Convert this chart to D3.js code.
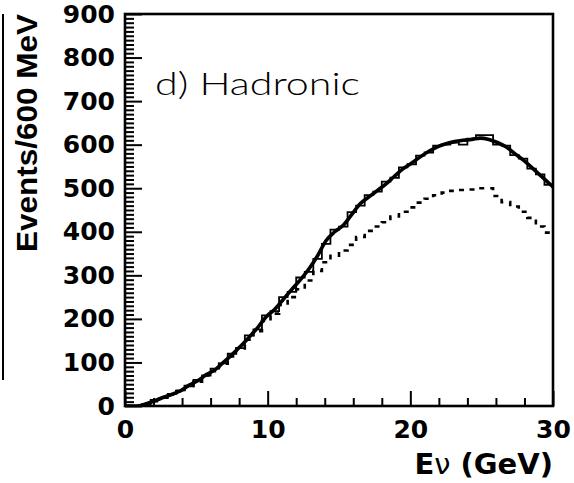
<!DOCTYPE html>
<html>
<head>
<meta charset="utf-8">
<script src="https://cdn.jsdelivr.net/npm/d3@7"></script>
<style>
  html, body { margin: 0; padding: 0; background: #fff; }
  svg { display: block; }
</style>
</head>
<body>
<svg id="chart" width="574" height="483"></svg>
<script>
// ---------------- data ----------------
// lower edges of the 600 MeV bins (GeV)
const binLow = [0.0,0.6,1.2,1.8,2.4,3.0,3.6,4.2,4.8,5.4,
                6.0,6.6,7.2,7.8,8.4,9.0,9.6,10.2,10.8,11.4,
                12.0,12.6,13.2,13.8,14.4,15.0,15.6,16.2,16.8,17.4,
                18.0,18.6,19.2,19.8,20.4,21.0,21.6,22.2,22.8,23.4,
                24.0,24.6,25.2,25.8,26.4,27.0,27.6,28.2,28.8,29.4];
const binWidth = 0.6;

// smooth (thick) solid curve, values at bin centres
const mcTotal = [0,0,5,12,20,27,35,48,58,72,
                 83,100,118,137,158,180,205,222,245,268,
                 290,315,345,380,400,415,440,465,480,495,
                 510,528,545,558,572,585,595,602,607,610,
                 612,615,612,605,595,580,565,548,530,512];
// fluctuating (thin) solid histogram
const dataTotal = [0,0,4,14,18,28,36,45,60,70,
                   86,98,120,133,162,176,208,218,250,262,
                   295,308,338,372,405,412,445,460,484,492,
                   515,524,548,555,575,582,598,600,605,600,
                   614,622,622,600,598,576,568,545,532,508];
// dashed histogram
const dashedSeries = [0,0,4,11,19,26,34,46,56,70,
                      80,97,114,132,152,172,195,212,232,250,
                      268,288,310,330,345,357,370,388,402,412,
                      422,435,446,456,467,476,484,490,494,496,
                      497,500,500,482,468,458,446,432,412,398];

const xMajorTicks = [0, 10, 20, 30];
const xMinorTicks = [2,4,6,8,12,14,16,18,22,24,26,28];
const yMajorTicks = [0,100,200,300,400,500,600,700,800,900];
const yMinorTicks = d3.range(0, 901, 10).filter(v => v % 100 !== 0);

const panelLabel = "d) Hadronic";
const yTitle = "Events/600 MeV";

// ---------------- layout ----------------
const L = 125, R = 553, T = 14, B = 406;
const svg = d3.select("#chart");
const x = d3.scaleLinear().domain([0, 30]).range([L, R]);
const y = d3.scaleLinear().domain([0, 900]).range([B, T]);

const tickFont = "'DejaVu Sans', sans-serif";

// neighbour-panel frame fragment at the left edge
svg.append("line").attr("x1", 3).attr("x2", 3).attr("y1", 14).attr("y2", 380)
  .attr("stroke", "#000").attr("stroke-width", 2);

// step path builder
function stepPath(values) {
  const pts = [];
  values.forEach((v, i) => {
    pts.push([binLow[i], v]);
    pts.push([binLow[i] + binWidth, v]);
  });
  return d3.line().x(d => x(d[0])).y(d => y(d[1]))(pts);
}

svg.append("clipPath").attr("id", "plotclip")
  .append("rect").attr("x", L).attr("y", T).attr("width", R - L).attr("height", B - T);

const g = svg.append("g").attr("clip-path", "url(#plotclip)");

g.append("path").attr("d", stepPath(dashedSeries))
  .attr("fill", "none").attr("stroke", "#000").attr("stroke-width", 2.6)
  .attr("stroke-dasharray", "5,6");

// smooth curve through bin centres, extended to the axis edges
const curvePts = mcTotal.map((v, i) => [binLow[i] + binWidth / 2, v]);
curvePts.unshift([binLow[0], mcTotal[0]]);
curvePts.push([binLow[binLow.length - 1] + binWidth, mcTotal[mcTotal.length - 1] - 9]);
g.append("path")
  .attr("d", d3.line().x(d => x(d[0])).y(d => y(d[1])).curve(d3.curveMonotoneX)(curvePts))
  .attr("fill", "none").attr("stroke", "#000").attr("stroke-width", 3.6)
  .attr("stroke-linejoin", "round");

g.append("path").attr("d", stepPath(dataTotal))
  .attr("fill", "none").attr("stroke", "#000").attr("stroke-width", 1.8);

// ---------------- axes ----------------
function styleAxis(sel) {
  sel.select(".domain").remove();
  sel.selectAll(".tick line").attr("stroke", "#000").attr("stroke-width", 2);
  sel.selectAll(".tick text").attr("fill", "#000")
    .attr("font-family", tickFont).attr("font-weight", "bold").attr("font-size", 25);
}

svg.append("g").attr("transform", `translate(0,${B})`)
  .call(d3.axisBottom(x).tickValues(xMinorTicks).tickSize(-8).tickFormat(""))
  .call(styleAxis);
svg.append("g").attr("transform", `translate(0,${B})`)
  .call(d3.axisBottom(x).tickValues(xMajorTicks).tickSize(-15).tickPadding(14).tickFormat(d3.format("d")))
  .call(styleAxis);

svg.append("g").attr("transform", `translate(${L},0)`)
  .call(d3.axisLeft(y).tickValues(yMinorTicks).tickSize(-9).tickFormat(""))
  .call(styleAxis);
svg.append("g").attr("transform", `translate(${L},0)`)
  .call(d3.axisLeft(y).tickValues(yMajorTicks).tickSize(-17).tickPadding(10).tickFormat(d3.format("d")))
  .call(styleAxis);

// frame
svg.append("rect").attr("x", L).attr("y", T).attr("width", R - L).attr("height", B - T)
  .attr("fill", "none").attr("stroke", "#000").attr("stroke-width", 2.6);

// titles
const xt = svg.append("text").attr("x", R).attr("y", 474).attr("text-anchor", "end")
  .attr("font-family", tickFont).attr("font-weight", "bold").attr("font-size", 29)
  .attr("fill", "#000");
xt.append("tspan").text("E");
xt.append("tspan").attr("font-weight", "normal").text("\u03bd");
xt.append("tspan").text(" (GeV)");

svg.append("text")
  .attr("transform", "translate(37,14) rotate(-90)")
  .attr("text-anchor", "end")
  .attr("font-family", "'Liberation Sans', Arial, sans-serif").attr("font-weight", "bold")
  .attr("font-size", 30).attr("textLength", 238).attr("lengthAdjust", "spacingAndGlyphs")
  .attr("fill", "#000")
  .text(yTitle);

svg.append("text").attr("x", 155).attr("y", 95)
  .attr("font-family", "'DejaVu Sans ExtraLight', 'Lato', 'DejaVu Sans', sans-serif")
  .attr("font-weight", 300).attr("font-size", 31)
  .attr("textLength", 205).attr("lengthAdjust", "spacingAndGlyphs")
  .attr("fill", "#000")
  .text(panelLabel);
</script>
</body>
</html>
